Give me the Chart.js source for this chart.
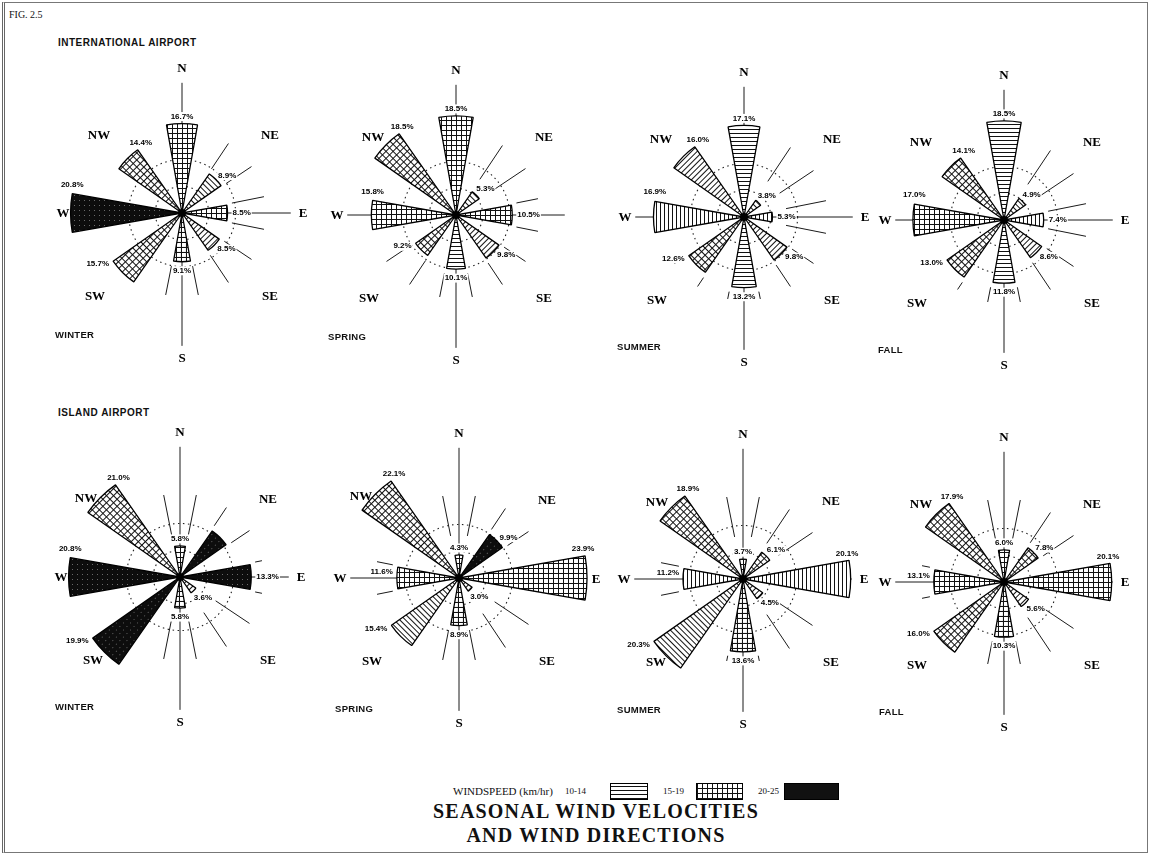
<!DOCTYPE html>
<html>
<head>
<meta charset="utf-8">
<script src="https://cdn.jsdelivr.net/npm/chart.js@4.4.0/dist/chart.umd.min.js"></script>
<style>
html,body{margin:0;padding:0;background:#fff;}
body{width:1151px;height:860px;position:relative;overflow:hidden;font-family:"Liberation Sans",Arial,sans-serif;color:#111;}
.frame{position:absolute;left:2px;top:2px;width:1142px;height:849px;border:1px solid #777;border-left:3px double #666;}
.rose{position:absolute;width:300px;height:300px;}
.txt{position:absolute;white-space:nowrap;transform:translateY(-50%);line-height:1;}
.sec{font-weight:bold;font-size:10px;letter-spacing:0.5px;}
.season{font-weight:bold;font-size:9.5px;letter-spacing:0.3px;}
.serif{font-family:"Liberation Serif","Times New Roman",serif;}
.box{position:absolute;top:783px;height:15px;border:1px solid #000;}
.title{position:absolute;left:0;width:1192px;text-align:center;font-family:"Liberation Serif","Times New Roman",serif;font-weight:bold;font-size:20px;letter-spacing:1.2px;line-height:22px;}
</style>
</head>
<body>
<div class="frame"></div>
<div class="txt serif" style="left:9px;top:15px;font-size:10px;">FIG. 2.5</div>
<div class="txt sec" style="left:58px;top:43px;">INTERNATIONAL AIRPORT</div>
<div class="txt sec" style="left:58px;top:413px;">ISLAND AIRPORT</div>

<div class="txt serif" style="left:453px;top:791px;font-size:11px;">WINDSPEED (km/hr)</div>
<div class="txt serif" style="left:565px;top:791px;font-size:9px;">10-14</div>
<div class="box" style="left:610px;width:36px;background:repeating-linear-gradient(180deg,#fff 0 2px,#111 2px 3px,#fff 3px 4px);"></div>
<div class="txt serif" style="left:663px;top:791px;font-size:9px;">15-19</div>
<div class="box" style="left:696px;width:45px;background:repeating-linear-gradient(0deg,#111 0 1px,transparent 1px 5px),repeating-linear-gradient(90deg,#111 0 1px,#fff 1px 5px);"></div>
<div class="txt serif" style="left:758px;top:791px;font-size:9px;">20-25</div>
<div class="box" style="left:784px;width:53px;background:#111;"></div>

<div class="title" style="top:800px;">SEASONAL WIND VELOCITIES</div>
<div class="title" style="top:824px;">AND WIND DIRECTIONS</div>

<script>
// ---------------- DATA ----------------
const directions = ['N', 'NE', 'E', 'SE', 'S', 'SW', 'W', 'NW'];
const speedClasses = ['10-14', '15-19', '20-25'];

const intlWinter      = [16.7, 8.9, 8.5, 8.5, 9.1, 15.7, 20.8, 14.4];
const intlWinterSpeed = ['15-19', '10-14', '15-19', '10-14', '15-19', '15-19', '20-25', '15-19'];
const intlSpring      = [18.5, 5.3, 10.5, 9.8, 10.1, 9.2, 15.8, 18.5];
const intlSpringSpeed = ['15-19', '10-14', '15-19', '10-14', '10-14', '15-19', '15-19', '15-19'];
const intlSummer      = [17.1, 3.8, 5.3, 9.8, 13.2, 12.6, 16.9, 16.0];
const intlSummerSpeed = ['10-14', '10-14', '10-14', '10-14', '10-14', '15-19', '10-14', '10-14'];
const intlFall        = [18.5, 4.9, 7.4, 8.6, 11.8, 13.0, 17.0, 14.1];
const intlFallSpeed   = ['10-14', '10-14', '10-14', '10-14', '10-14', '15-19', '15-19', '15-19'];

const islandWinter      = [5.8, 10.5, 13.3, 3.6, 5.8, 19.9, 20.8, 21.0];
const islandWinterSpeed = ['15-19', '20-25', '20-25', '10-14', '15-19', '20-25', '20-25', '15-19'];
const islandWinterUnlabeled = ['NE'];
const islandSpring      = [4.3, 9.9, 23.9, 3.0, 8.9, 15.4, 11.6, 22.1];
const islandSpringSpeed = ['15-19', '20-25', '15-19', '10-14', '15-19', '10-14', '15-19', '15-19'];
const islandSummer      = [3.7, 6.1, 20.1, 4.5, 13.6, 20.3, 11.2, 18.9];
const islandSummerSpeed = ['15-19', '15-19', '10-14', '10-14', '15-19', '10-14', '10-14', '15-19'];
const islandFall        = [6.0, 7.8, 20.1, 5.6, 10.3, 16.0, 13.1, 17.9];
const islandFallSpeed   = ['15-19', '15-19', '15-19', '10-14', '15-19', '15-19', '15-19', '15-19'];

const seasons = ['WINTER', 'SPRING', 'SUMMER', 'FALL'];

// ---------------- LAYOUT / STYLE ----------------
const roses = [
  {values: intlWinter,   speed: intlWinterSpeed,   cx: 182,  cy: 213, season: seasons[0], sx: 55,  sy: 335},
  {values: intlSpring,   speed: intlSpringSpeed,   cx: 456,  cy: 215, season: seasons[1], sx: 328, sy: 337, noDirLabel: ['E']},
  {values: intlSummer,   speed: intlSummerSpeed,   cx: 744,  cy: 217, season: seasons[2], sx: 617, sy: 347},
  {values: intlFall,     speed: intlFallSpeed,     cx: 1004, cy: 220, season: seasons[3], sx: 878, sy: 350},
  {values: islandWinter, speed: islandWinterSpeed, cx: 180,  cy: 577, season: seasons[0], sx: 55,  sy: 707, unlabeled: islandWinterUnlabeled, dirMove: {NW: [-94, -79]}},
  {values: islandSpring, speed: islandSpringSpeed, cx: 459,  cy: 578, season: seasons[1], sx: 335, sy: 709, dirMove: {NW: [-98, -82], E: [137, 1]}},
  {values: islandSummer, speed: islandSummerSpeed, cx: 743,  cy: 579, season: seasons[2], sx: 617, sy: 710, dirMove: {NW: [-86, -77]}},
  {values: islandFall,   speed: islandFallSpeed,   cx: 1004, cy: 582, season: seasons[3], sx: 879, sy: 712}
];

const SIZE = 300;
const RMAX = 28;       // % at the canvas edge (150 px)
const PETAL = 20;      // petal width in degrees
const GAP = 25;        // gap between petals in degrees
const dirOffsets = {N: [0, -145], NE: [88, -78], E: [121, 0], SE: [88, 83], S: [0, 145], SW: [-87, 83], W: [-119, 0], NW: [-83, -78]};

const tiles = {};
function tile(cls) {
  if (tiles[cls]) return tiles[cls];
  const s = cls === '10-14' ? 4 : 5;
  const c = document.createElement('canvas');
  c.width = s; c.height = s;
  const g = c.getContext('2d');
  if (cls === '20-25') {
    g.fillStyle = '#0d0d0d'; g.fillRect(0, 0, s, s);
    g.fillStyle = '#6a6a6a'; g.fillRect(2, 2, 1, 1);
  } else {
    g.fillStyle = '#fff'; g.fillRect(0, 0, s, s);
    g.fillStyle = '#111'; g.fillRect(0, 0, s, 1);
    if (cls === '15-19') g.fillRect(0, 0, 1, s);
  }
  tiles[cls] = c;
  return c;
}
function petalPattern(chart, cls, deg) {
  const sc = chart.scales && chart.scales.r;
  const cx = sc && isFinite(sc.xCenter) ? sc.xCenter : chart.width / 2;
  const cy = sc && isFinite(sc.yCenter) ? sc.yCenter : chart.height / 2;
  const p = chart.ctx.createPattern(tile(cls), 'repeat');
  p.setTransform(new DOMMatrix().translate(cx, cy).rotate(deg));
  return p;
}

function makeDecor(cfg) {
  return {
    id: 'roseDecor',
    beforeDatasetsDraw(chart) {
      const sc = chart.scales.r, ctx = chart.ctx;
      const cx = sc.xCenter, cy = sc.yCenter;
      const R = v => sc.getDistanceFromCenterForValue(v);
      const line = (deg, r0, r1) => {
        const a = deg * Math.PI / 180, s = Math.sin(a), c = -Math.cos(a);
        ctx.beginPath();
        ctx.moveTo(cx + r0 * s, cy + r0 * c);
        ctx.lineTo(cx + r1 * s, cy + r1 * c);
        ctx.stroke();
      };
      ctx.save();
      ctx.strokeStyle = '#1a1a1a';
      ctx.lineWidth = 1;
      [[0, 24.3], [90, 20.3], [180, 24.8], [270, 20.3]].forEach(([a, len]) => line(a, 0, R(len)));
      cfg.values.forEach((v, k) => {
        if (v < 14) {
          const r0 = R(Math.max(v + 1, 8)), r1 = R(15.6);
          line(k * 45 - 11.25, r0, r1);
          line(k * 45 + 11.25, r0, r1);
        }
      });
      ctx.restore();
    },
    afterDatasetsDraw(chart) {
      const sc = chart.scales.r, ctx = chart.ctx;
      const cx = sc.xCenter, cy = sc.yCenter;
      const R = v => sc.getDistanceFromCenterForValue(v);
      const pt = (deg, r) => {
        const a = deg * Math.PI / 180;
        return [cx + r * Math.sin(a), cy - r * Math.cos(a)];
      };
      ctx.save();
      // centre hub
      ctx.fillStyle = '#000';
      ctx.beginPath(); ctx.arc(cx, cy, 4, 0, Math.PI * 2); ctx.fill();
      // percentage labels
      ctx.font = 'bold 8px "Liberation Sans", Arial, sans-serif';
      ctx.textBaseline = 'middle';
      const h = PETAL / 2;
      cfg.values.forEach((v, k) => {
        if (cfg.unlabeled && cfg.unlabeled.includes(directions[k])) return;
        const r = R(v);
        let x, y, align;
        switch (k) {
          case 0: [x, y] = pt(0, r); y -= 7; align = 'center'; break;
          case 1: [x, y] = pt(45 + h, r); x -= 3; y -= 10; align = 'left'; break;
          case 2:
            if (v >= 15) { [x, y] = pt(90 - h, r); x -= 2; y -= 7; align = 'center'; }
            else { [x, y] = pt(90, r); x += 5; align = 'left'; }
            break;
          case 3: [x, y] = pt(135 - h, r); x -= 2; y += 10; align = 'left'; break;
          case 4: [x, y] = pt(180, r); y += 9; align = 'center'; break;
          case 5: [x, y] = pt(225 + h, r); x -= 4; y += 3; align = 'right'; break;
          case 6:
            if (v >= 14) { [x, y] = pt(270 + h, r); y -= 9; align = 'center'; }
            else { [x, y] = pt(270, r); x -= 4; y -= 6; align = 'right'; }
            break;
          default: [x, y] = pt(315 + h, r); x += 3; y -= 7; align = 'center';
        }
        const txt = v.toFixed(1) + '%';
        const w = ctx.measureText(txt).width;
        const left = align === 'left' ? x : align === 'right' ? x - w : x - w / 2;
        ctx.fillStyle = '#fff';
        ctx.fillRect(left - 1, y - 4.5, w + 2, 9);
        ctx.fillStyle = '#000';
        ctx.textAlign = align;
        ctx.fillText(txt, x, y);
      });
      // direction labels
      ctx.font = 'bold 13px "Liberation Serif", "Times New Roman", serif';
      ctx.textAlign = 'center';
      ctx.fillStyle = '#000';
      directions.forEach(d => {
        if (cfg.noDirLabel && cfg.noDirLabel.includes(d)) return;
        const [dx, dy] = (cfg.dirMove && cfg.dirMove[d]) || dirOffsets[d];
        ctx.fillText(d, cx + dx, cy + dy + 1);
      });
      ctx.restore();
    }
  };
}

function buildRose(cfg) {
  const cv = document.createElement('canvas');
  cv.width = SIZE; cv.height = SIZE;
  cv.className = 'rose';
  cv.style.left = (cfg.cx - SIZE / 2) + 'px';
  cv.style.top = (cfg.cy - SIZE / 2) + 'px';
  document.body.appendChild(cv);

  const s = document.createElement('div');
  s.className = 'txt season';
  s.style.left = cfg.sx + 'px';
  s.style.top = cfg.sy + 'px';
  s.textContent = cfg.season;
  document.body.appendChild(s);

  const labels = [], data = [], angles = [];
  directions.forEach((d, k) => {
    labels.push(d, '');
    data.push(cfg.values[k], 0);
    angles.push(PETAL, GAP);
  });

  new Chart(cv, {
    type: 'polarArea',
    data: {
      labels,
      datasets: [{
        data,
        angle: angles,
        backgroundColor: c => c.dataIndex % 2 ? 'rgba(0,0,0,0)' : petalPattern(c.chart, cfg.speed[c.dataIndex / 2], (c.dataIndex / 2) * 45),
        borderColor: '#000',
        borderWidth: c => c.dataIndex % 2 ? 0 : 1.3,
        borderAlign: 'center'
      }]
    },
    options: {
      responsive: false,
      animation: false,
      events: [],
      layout: {padding: 0},
      plugins: {legend: {display: false}, tooltip: {enabled: false}},
      scales: {
        r: {
          min: 0, max: RMAX,
          startAngle: -PETAL / 2,
          ticks: {display: false, stepSize: 5},
          pointLabels: {display: false},
          angleLines: {display: false},
          grid: {
            circular: true,
            color: c => (c.tick && (c.tick.value === 5 || c.tick.value === 10)) ? '#222' : 'rgba(0,0,0,0)',
            lineWidth: 1.1
          },
          border: {dash: [1.5, 3.5]}
        }
      }
    },
    plugins: [makeDecor(cfg)]
  });
}

roses.forEach(buildRose);
</script>
</body>
</html>
